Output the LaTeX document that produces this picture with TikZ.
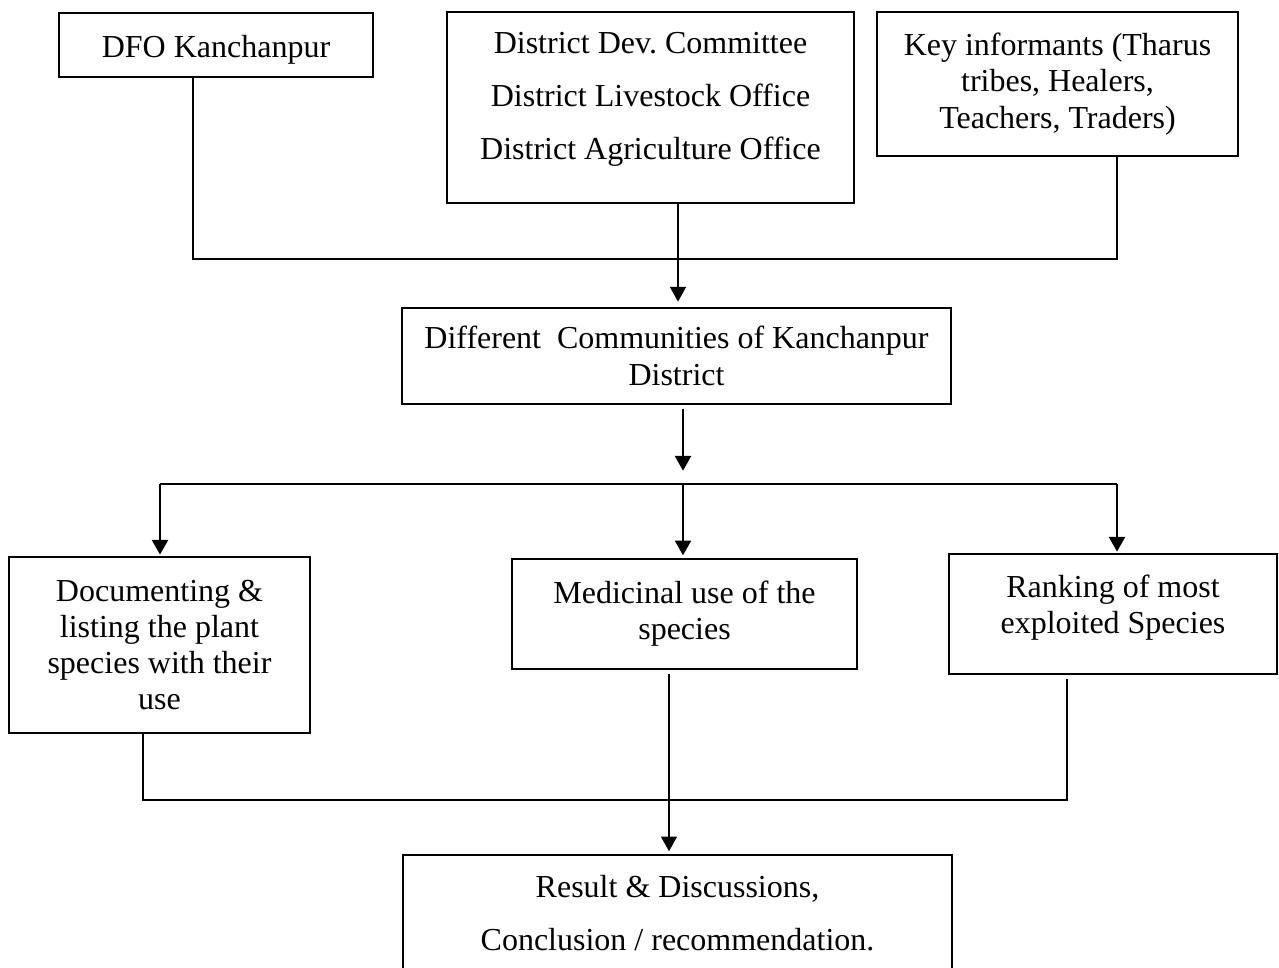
\documentclass[tikz,border=0pt]{standalone}
\usepackage{fontspec}
\setmainfont{Liberation Serif}
\usetikzlibrary{arrows.meta,calc}

\begin{document}
\begin{tikzpicture}[x=0.375pt,y=-0.375pt,
            box/.style={draw,line width=0.8pt,align=center,inner sep=0pt,font=\fontsize{12}{13.6}\selectfont},
            spaced/.style={font=\fontsize{12}{19.8}\selectfont},
            link/.style={line width=0.5pt},
            boldlink/.style={line width=0.8pt},
            arr/.style={line width=0.5pt,-{Triangle[width=6pt,length=5.5pt]}},
            boldarr/.style={line width=0.8pt,-{Triangle[width=6pt,length=5.5pt]}}]
            \useasboundingbox (0,0) rectangle (1279,968);
            \node (dfo) at (216,45)[box,text height=12pt,minimum width=117.75pt,minimum height=24pt]{DFO Kanchanpur};
            \node (ddc) at (650.5,107.5)[box,spaced,text depth=8.6pt,minimum width=152.6pt,minimum height=71.6pt]{District Dev.\ Committee\\District Livestock Office\\District Agriculture Office};
            \node (keyinf) at (1057.5,84)[box,minimum width=135.4pt,minimum height=54pt]{Key informants (Tharus\\tribes, Healers,\\Teachers, Traders)};
            \node (comm) at (676.5,356)[box,minimum width=205.9pt,minimum height=36pt]{Different~ Communities of Kanchanpur\\District};
            \node (docu) at (159.5,645)[box,minimum width=112.9pt,minimum height=66pt]{Documenting \&\\listing the plant\\species with their\\use};
            \node (medi) at (684.5,614)[box,minimum width=129.4pt,minimum height=41.25pt]{Medicinal use of the\\species};
            \node (rank) at (1113,614)[box,text depth=7.1pt,minimum width=123pt,minimum height=45pt]{Ranking of most\\exploited Species};
            \node (result) at (677.5,913.5)[box,spaced,minimum width=205.9pt,minimum height=43.9pt]{Result \& Discussions,\\Conclusion / recommendation.};

            \coordinate (tl) at (193,259);
            \coordinate (tr) at (1117,259);
            \coordinate (tin) at (678,259);
            \draw[link] (dfo.south -| tl)--(tl)--(tr)--(keyinf.south -| tr);
            \draw[arr,shorten >=2pt] (ddc.south -| tin)--(comm.north -| tin);

            \coordinate (split) at (683,484);
            \coordinate (bl) at (160,484);
            \coordinate (br) at (1117,484);
            \draw[boldarr,shorten <=1.5pt,shorten >=5pt] (comm.south -| split)--(split);
            \draw[boldlink] (bl)--(br);
            \draw[boldarr,shorten >=0.5pt] (bl)--(docu.north -| bl);
            \draw[boldarr,shorten >=1pt] (split)--(medi.north -| split);
            \draw[boldarr,shorten >=0.5pt] (br)--(rank.north -| br);

            \coordinate (bbl) at (143,800);
            \coordinate (bbr) at (1067,800);
            \coordinate (down) at (669,800);
            \draw[link] (docu.south -| bbl)--(bbl)--(bbr)--([yshift=-1.5pt]rank.south -| bbr);
            \draw[arr,shorten <=1.5pt,shorten >=1pt] (medi.south -| down)--(result.north -| down);
        \end{tikzpicture}
\end{document}
